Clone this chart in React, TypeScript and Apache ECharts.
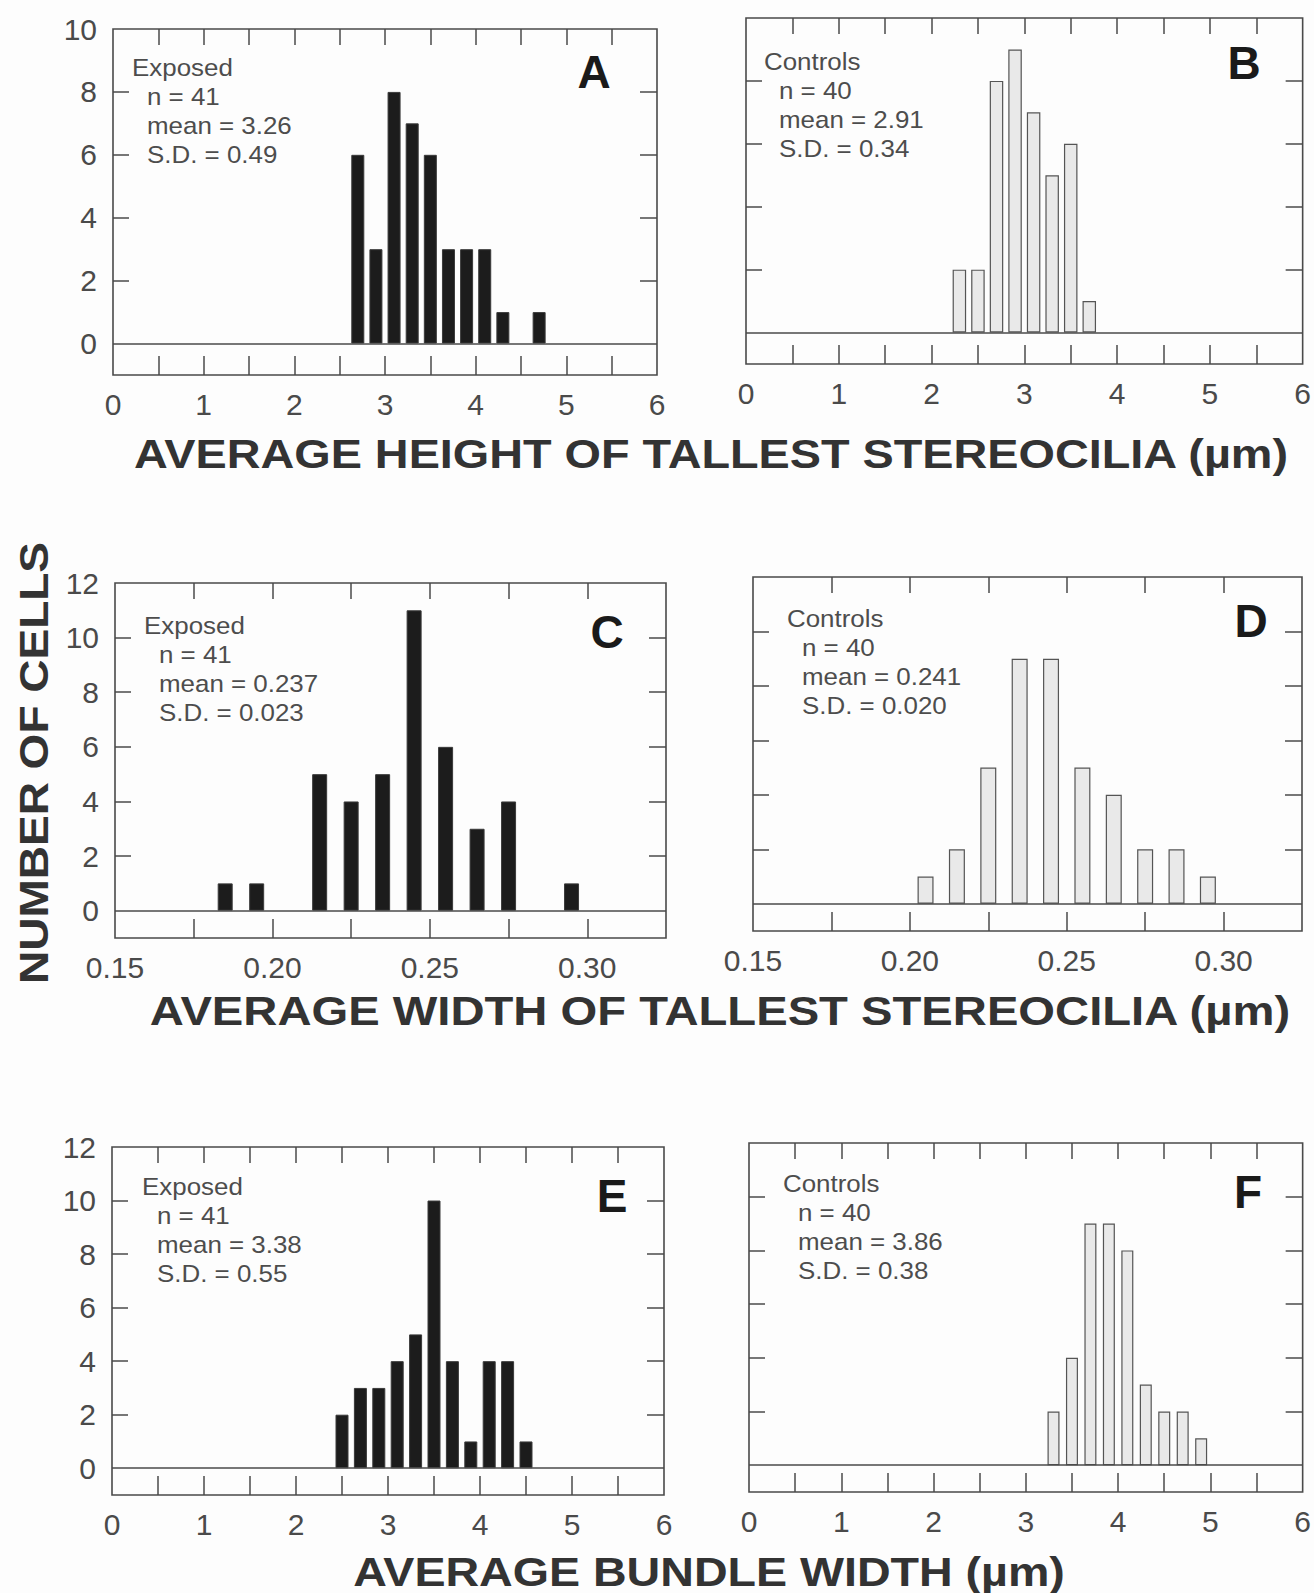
import React, { useEffect, useRef } from 'react';
import * as echarts from 'echarts';

// ---------------- data ----------------
const heightExposedBins = [2.7, 2.9, 3.1, 3.3, 3.5, 3.7, 3.9, 4.1, 4.3, 4.5, 4.7];
const heightExposedCounts = [6, 3, 8, 7, 6, 3, 3, 3, 1, 0, 1];
const heightControlBins = [2.3, 2.5, 2.7, 2.9, 3.1, 3.3, 3.5, 3.7];
const heightControlCounts = [2, 2, 8, 9, 7, 5, 6, 1];

const widthExposedBins = [0.185, 0.195, 0.215, 0.225, 0.235, 0.245, 0.255, 0.265, 0.275, 0.295];
const widthExposedCounts = [1, 1, 5, 4, 5, 11, 6, 3, 4, 1];
const widthControlBins = [0.205, 0.215, 0.225, 0.235, 0.245, 0.255, 0.265, 0.275, 0.285, 0.295];
const widthControlCounts = [1, 2, 5, 9, 9, 5, 4, 2, 2, 1];

const bundleExposedBins = [2.5, 2.7, 2.9, 3.1, 3.3, 3.5, 3.7, 3.9, 4.1, 4.3, 4.5];
const bundleExposedCounts = [2, 3, 3, 4, 5, 10, 4, 1, 4, 4, 1];
const bundleControlBins = [3.3, 3.5, 3.7, 3.9, 4.1, 4.3, 4.5, 4.7, 4.9];
const bundleControlCounts = [2, 4, 9, 9, 8, 3, 2, 2, 1];

// tick / label values
const micronTicks = [0.5, 1, 1.5, 2, 2.5, 3, 3.5, 4, 4.5, 5, 5.5];
const micronLabels = [0, 1, 2, 3, 4, 5, 6];
const widthTicks = [0.175, 0.2, 0.225, 0.25, 0.275, 0.3];
const widthLabels = [0.15, 0.2, 0.25, 0.3];
const countTicks10 = [2, 4, 6, 8];
const countLabels10 = [0, 2, 4, 6, 8, 10];
const countTicks12 = [2, 4, 6, 8, 10];
const countLabels12 = [0, 2, 4, 6, 8, 10, 12];

// annotation texts
const panelLetters = ['A', 'B', 'C', 'D', 'E', 'F'];
const groupNames = ['Exposed', 'Controls', 'Exposed', 'Controls', 'Exposed', 'Controls'];
const sampleSizes = ['41', '40', '41', '40', '41', '40'];
const meanTexts = ['3.26', '2.91', '0.237', '0.241', '3.38', '3.86'];
const sdTexts = ['0.49', '0.34', '0.023', '0.020', '0.55', '0.38'];
const xTitles = [
  'AVERAGE HEIGHT OF TALLEST STEREOCILIA (µm)',
  'AVERAGE WIDTH OF TALLEST STEREOCILIA (µm)',
  'AVERAGE BUNDLE WIDTH (µm)',
];
const yTitle = 'NUMBER OF CELLS';

// ---------------- layout / style ----------------
const FONT = '"Liberation Sans", Arial, Helvetica, sans-serif';
const FRAME = '#4a4a4a';
const DARK_FILL = '#1c1c1c';
const LIGHT_FILL = '#e9e9e9';

type Panel = {
  left: number; top: number; w: number; h: number;
  xMin: number; xMax: number; yMax: number;
  xTicks: number[]; xLabels: number[]; yTicks: number[]; yLabels: number[];
  bins: number[]; counts: number[]; dark: boolean; barWidth: number;
  showYLabels: boolean; decimals: number;
  annX: number; annY: number; letterX: number; letterY: number;
};

const panels: Panel[] = [
  { left: 113, top: 29, w: 544, h: 346, xMin: 0, xMax: 6, yMax: 10,
    xTicks: micronTicks, xLabels: micronLabels, yTicks: countTicks10, yLabels: countLabels10,
    bins: heightExposedBins, counts: heightExposedCounts, dark: true, barWidth: 13,
    showYLabels: true, decimals: 0, annX: 132, annY: 67, letterX: 594, letterY: 72 },
  { left: 746, top: 18, w: 558, h: 346, xMin: 0, xMax: 6, yMax: 10,
    xTicks: micronTicks, xLabels: micronLabels, yTicks: countTicks10, yLabels: countLabels10,
    bins: heightControlBins, counts: heightControlCounts, dark: false, barWidth: 13.5,
    showYLabels: false, decimals: 0, annX: 764, annY: 61, letterX: 1244, letterY: 63 },
  { left: 115, top: 583, w: 551, h: 355, xMin: 0.15, xMax: 0.325, yMax: 12,
    xTicks: widthTicks, xLabels: widthLabels, yTicks: countTicks12, yLabels: countLabels12,
    bins: widthExposedBins, counts: widthExposedCounts, dark: true, barWidth: 15,
    showYLabels: true, decimals: 2, annX: 144, annY: 625, letterX: 607, letterY: 632 },
  { left: 753, top: 577, w: 549, h: 354, xMin: 0.15, xMax: 0.325, yMax: 12,
    xTicks: widthTicks, xLabels: widthLabels, yTicks: countTicks12, yLabels: countLabels12,
    bins: widthControlBins, counts: widthControlCounts, dark: false, barWidth: 16,
    showYLabels: false, decimals: 2, annX: 787, annY: 618, letterX: 1251, letterY: 621 },
  { left: 112, top: 1147, w: 552, h: 348, xMin: 0, xMax: 6, yMax: 12,
    xTicks: micronTicks, xLabels: micronLabels, yTicks: countTicks12, yLabels: countLabels12,
    bins: bundleExposedBins, counts: bundleExposedCounts, dark: true, barWidth: 13,
    showYLabels: true, decimals: 0, annX: 142, annY: 1186, letterX: 612, letterY: 1196 },
  { left: 749, top: 1143, w: 554, h: 349, xMin: 0, xMax: 6, yMax: 12,
    xTicks: micronTicks, xLabels: micronLabels, yTicks: countTicks12, yLabels: countLabels12,
    bins: bundleControlBins, counts: bundleControlCounts, dark: false, barWidth: 12,
    showYLabels: false, decimals: 0, annX: 783, annY: 1183, letterX: 1248, letterY: 1192 },
];

function buildOption() {
  const grid: any[] = [];
  const xAxis: any[] = [];
  const yAxis: any[] = [];
  const series: any[] = [];
  const graphic: any[] = [];

  const tickStyle = { color: FRAME, width: 1.5 };
  const labelStyle = { fontFamily: FONT, fontSize: 30, color: '#4a4a4a' };
  const noLine = { show: false, onZero: false };

  panels.forEach((p, i) => {
    grid.push({
      left: p.left, top: p.top, width: p.w, height: p.h,
      show: true, borderColor: FRAME, borderWidth: 1.6, backgroundColor: 'transparent',
    });
    const xb = xAxis.length;
    xAxis.push({
      type: 'value', gridIndex: i, position: 'bottom', min: p.xMin, max: p.xMax,
      axisLine: noLine, splitLine: { show: false },
      axisTick: { show: true, inside: true, length: 19, customValues: p.xTicks, lineStyle: tickStyle },
      axisLabel: {
        show: true, customValues: p.xLabels, margin: 14, ...labelStyle,
        formatter: (v: number) => v.toFixed(p.decimals),
      },
    });
    xAxis.push({
      type: 'value', gridIndex: i, position: 'top', min: p.xMin, max: p.xMax,
      axisLine: noLine, splitLine: { show: false },
      axisTick: { show: true, inside: true, length: 16, customValues: p.xTicks, lineStyle: tickStyle },
      axisLabel: { show: false },
    });
    const yl = yAxis.length;
    yAxis.push({
      type: 'value', gridIndex: i, position: 'left', min: -1, max: p.yMax,
      axisLine: noLine, splitLine: { show: false },
      axisTick: { show: true, inside: true, length: 16, customValues: p.yTicks, lineStyle: tickStyle },
      axisLabel: {
        show: p.showYLabels, customValues: p.yLabels, margin: 16, ...labelStyle,
        formatter: (v: number) => String(v),
      },
    });
    yAxis.push({
      type: 'value', gridIndex: i, position: 'right', min: -1, max: p.yMax,
      axisLine: noLine, splitLine: { show: false },
      axisTick: { show: true, inside: true, length: 17, customValues: p.yTicks, lineStyle: tickStyle },
      axisLabel: { show: false },
    });

    series.push({
      type: 'bar',
      xAxisIndex: xb,
      yAxisIndex: yl,
      barWidth: p.barWidth,
      data: p.bins.map((b, k) => [b, p.counts[k]]).filter((d) => d[1] > 0),
      itemStyle: p.dark
        ? { color: DARK_FILL, borderColor: '#3a3a3a', borderWidth: 1 }
        : { color: LIGHT_FILL, borderColor: '#555555', borderWidth: 1.2 },
      emphasis: { disabled: true },
      markLine: {
        silent: true,
        symbol: ['none', 'none'],
        label: { show: false },
        lineStyle: { color: FRAME, width: 1.5, type: 'solid' },
        data: [{ yAxis: 0 }],
      },
      z: 2,
    });

    // annotation block
    const lines = [
      { t: groupNames[i], x: p.annX },
      { t: 'n = ' + sampleSizes[i], x: p.annX + 15 },
      { t: 'mean = ' + meanTexts[i], x: p.annX + 15 },
      { t: 'S.D. = ' + sdTexts[i], x: p.annX + 15 },
    ];
    lines.forEach((ln, k) => {
      graphic.push({
        type: 'text', x: ln.x, y: p.annY + k * 29, scaleX: 1.08, scaleY: 1,
        silent: true,
        style: {
          text: ln.t, fill: '#4d4d4d', fontSize: 24, fontFamily: FONT,
          align: 'left', verticalAlign: 'middle', textAlign: 'left', textVerticalAlign: 'middle',
        },
      });
    });
    graphic.push({
      type: 'text', x: p.letterX, y: p.letterY, silent: true,
      style: {
        text: panelLetters[i], fill: '#1a1a1a', fontSize: 46, fontWeight: 'bold', fontFamily: FONT,
        align: 'center', verticalAlign: 'middle', textAlign: 'center', textVerticalAlign: 'middle',
      },
    });
  });

  const titlePos = [
    { x: 711, y: 454, s: 1.17 },
    { x: 720, y: 1011, s: 1.18 },
    { x: 709, y: 1572, s: 1.165 },
  ];
  xTitles.forEach((t, k) => {
    graphic.push({
      type: 'text', x: titlePos[k].x, y: titlePos[k].y, scaleX: titlePos[k].s, scaleY: 1, silent: true,
      style: {
        text: t, fill: '#333333', fontSize: 40, fontWeight: 'bold', fontFamily: FONT,
        align: 'center', verticalAlign: 'middle', textAlign: 'center', textVerticalAlign: 'middle',
      },
    });
  });
  graphic.push({
    type: 'text', x: 34, y: 763, rotation: Math.PI / 2, scaleX: 1.15, scaleY: 1, silent: true,
    style: {
      text: yTitle, fill: '#333333', fontSize: 40, fontWeight: 'bold', fontFamily: FONT,
      align: 'center', verticalAlign: 'middle', textAlign: 'center', textVerticalAlign: 'middle',
    },
  });

  return {
    animation: false,
    backgroundColor: '#fdfdfd',
    textStyle: { fontFamily: FONT },
    grid,
    xAxis,
    yAxis,
    series,
    graphic,
  };
}

export default function App() {
  const ref = useRef<HTMLDivElement>(null);
  useEffect(() => {
    if (!ref.current) return;
    const chart = echarts.init(ref.current, undefined, { renderer: 'svg' });
    chart.setOption(buildOption() as any);
    return () => chart.dispose();
  }, []);
  return (
    <div
      ref={ref}
      style={{ position: 'absolute', left: 0, top: 0, width: 1314, height: 1593, background: '#fdfdfd' }}
    />
  );
}
